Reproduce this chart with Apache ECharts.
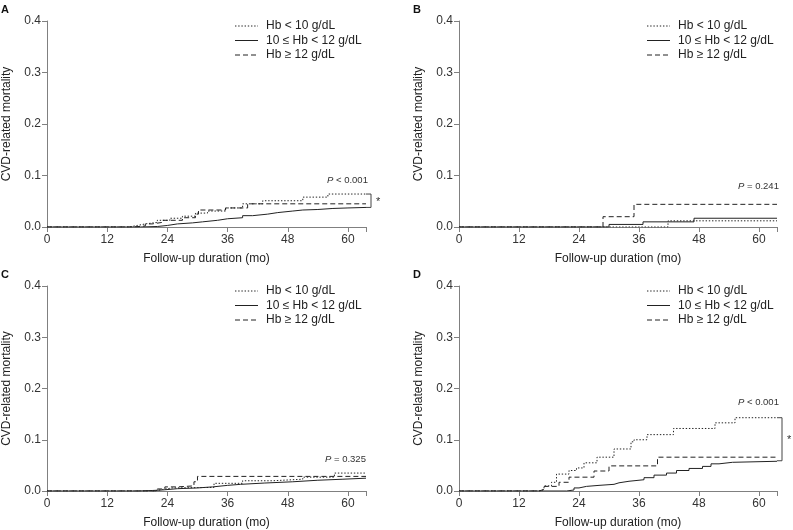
<!DOCTYPE html>
<html>
<head>
<meta charset="utf-8">
<script src="https://cdn.jsdelivr.net/npm/echarts@6/dist/echarts.min.js"></script>
<style>html,body{margin:0;padding:0;background:#fff}#c{width:793px;height:530px}</style>
</head>
<body>
<div id="c"></div>
<script>
// ---- data (month, cumulative CVD-related mortality) ----
var groupNames = ['Hb < 10 g/dL', '10 \u2264 Hb < 12 g/dL', 'Hb \u2265 12 g/dL'];
var xTicks = [0, 12, 24, 36, 48, 60];
var yTicks = [0, 0.1, 0.2, 0.3, 0.4];
var panelLetters = ['A', 'B', 'C', 'D'];
var pValues = ['< 0.001', '= 0.241', '= 0.325', '< 0.001'];
var significant = [true, false, false, true];

var aLow  = [[0,0],[16.3,0.003],[18,0.006],[19.6,0.009],[22,0.013],[24.5,0.017],[27,0.021],[29.6,0.027],[32,0.031],[35.6,0.037],[39,0.045],[43,0.051],[51,0.058],[56,0.064],[63.6,0.064]];
var aMid  = [[0,0],[18.6,0.001],[22,0.003],[24,0.006],[26,0.008],[29,0.010],[31,0.013],[34,0.016],[36,0.018],[39,0.022],[41,0.025],[44,0.028],[46,0.031],[49,0.033],[51,0.034],[54,0.036],[57,0.037],[60,0.038],[63.6,0.038]];
var aHigh = [[0,0],[17,0.002],[19.6,0.006],[21,0.009],[23,0.013],[27,0.018],[29.6,0.025],[30.2,0.033],[35.6,0.037],[40,0.045],[63.6,0.045]];

var bLow  = [[0,0],[41.8,0.012],[63.6,0.012]];
var bMid  = [[0,0],[30,0.005],[36.8,0.010],[47,0.017],[63.6,0.017]];
var bHigh = [[0,0],[28.8,0.020],[35,0.044],[63.6,0.044]];

var cLow  = [[0,0],[21.5,0.003],[23,0.006],[25,0.007],[33.3,0.015],[39,0.020],[45,0.023],[51,0.027],[57.3,0.035],[63.6,0.035]];
var cMid  = [[0,0],[18,0.001],[21,0.002],[23,0.0045],[26,0.006],[30,0.008],[33,0.011],[36,0.013],[38.6,0.0155],[43.3,0.018],[49,0.021],[54,0.023],[59,0.025],[63.6,0.026]];
var cHigh = [[0,0],[22,0.004],[23.5,0.008],[26,0.010],[29.3,0.018],[30,0.0285],[63.6,0.0285]];

var dLow  = [[0,0],[16.2,0.003],[17,0.010],[18.5,0.017],[19.5,0.033],[22,0.040],[23.5,0.045],[25,0.055],[27.6,0.066],[31,0.082],[34.4,0.096],[35,0.100],[37.6,0.110],[42.9,0.122],[51.2,0.133],[55.2,0.143],[63.6,0.143]];
var dMid  = [[0,0],[21.5,0.002],[23,0.006],[24,0.009],[25.5,0.011],[28,0.013],[31,0.016],[32,0.019],[34,0.022],[37,0.026],[39,0.031],[41.5,0.035],[43.5,0.040],[46,0.044],[48.7,0.048],[50.4,0.053],[52,0.056],[54.7,0.058],[63.6,0.059]];
var dHigh = [[0,0],[16,0.003],[17,0.009],[20,0.017],[22,0.027],[27,0.039],[30,0.049],[39.7,0.066],[63.6,0.066]];

var panels = [[aLow, aMid, aHigh], [bLow, bMid, bHigh], [cLow, cMid, cHigh], [dLow, dMid, dHigh]];
var xMax = 63.6;

// ---- layout ----
var FONT = '"Liberation Sans", Arial, sans-serif';
var gridPos = [
  {left: 47, top: 21, width: 319, height: 206},
  {left: 459, top: 21, width: 318, height: 206},
  {left: 47, top: 286, width: 319, height: 206},
  {left: 459, top: 286, width: 318, height: 206}
];
var legendPos = [{x: 235, y: 26}, {x: 647, y: 26}, {x: 235, y: 291}, {x: 647, y: 291}];
var pPos = [{left: 327, top: 175}, {left: 738, top: 181}, {left: 325, top: 454}, {left: 738, top: 397}];
var letterPos = [{left: 1, top: 4}, {left: 413, top: 4}, {left: 1, top: 269}, {left: 413, top: 269}];
var lineDash = [[1.4, 1.8], null, [5, 3]];
var lineTypes = [[1.4, 1.8], 'solid', [5, 3]];
var axisColor = '#808080';
var lineColor = '#222';

var grids = [], xAxes = [], yAxes = [], series = [], graphics = [];
panels.forEach(function (p, i) {
  grids.push(gridPos[i]);
  xAxes.push({
    type: 'value', gridIndex: i, min: 0, max: xMax, interval: 12,
    name: 'Follow-up duration (mo)', nameLocation: 'middle', nameGap: 26,
    nameTextStyle: {fontFamily: FONT, fontSize: 12, color: '#222'},
    axisLine: {lineStyle: {color: axisColor, width: 1}},
    axisTick: {length: 5, lineStyle: {color: axisColor}},
    axisLabel: {fontFamily: FONT, fontSize: 12, color: '#333', margin: 7,
      formatter: function (v) { return xTicks.indexOf(v) >= 0 ? String(v) : ''; }},
    splitLine: {show: false}
  });
  yAxes.push({
    type: 'value', gridIndex: i, min: 0, max: 0.4, interval: 0.1,
    name: 'CVD-related mortality', nameLocation: 'middle', nameGap: 34,
    nameTextStyle: {fontFamily: FONT, fontSize: 12, color: '#222'},
    axisLine: {show: true, lineStyle: {color: axisColor, width: 1}},
    axisTick: {show: true, length: 5, lineStyle: {color: axisColor}},
    axisLabel: {fontFamily: FONT, fontSize: 12, color: '#333', margin: 6,
      formatter: function (v) { return v.toFixed(1); }},
    splitLine: {show: false}
  });
  p.forEach(function (data, g) {
    series.push({
      type: 'line', name: groupNames[g], xAxisIndex: i, yAxisIndex: i,
      data: data, step: 'end', symbol: 'none', showSymbol: false, silent: true,
      lineStyle: {color: lineColor, width: 1, type: lineTypes[g]},
      z: 3 + g
    });
  });
  // legend drawn as graphics
  groupNames.forEach(function (nm, g) {
    var y = legendPos[i].y + g * 14.5;
    graphics.push({
      type: 'line', silent: true,
      shape: {x1: legendPos[i].x, y1: y, x2: legendPos[i].x + 23, y2: y},
      style: {stroke: lineColor, lineWidth: 1, lineDash: lineDash[g]}
    });
    graphics.push({
      type: 'text', silent: true, x: legendPos[i].x + 31, y: y,
      style: {text: nm, fontFamily: FONT, fontSize: 12, fill: '#222', verticalAlign: 'middle'}
    });
  });
  graphics.push({
    type: 'text', left: pPos[i].left, top: pPos[i].top,
    style: {text: '{i|P} ' + pValues[i], fontFamily: FONT, fontSize: 9.5, fill: '#333',
      rich: {i: {fontStyle: 'italic', fontFamily: FONT, fontSize: 9.5, fill: '#333'}}}
  });
  graphics.push({
    type: 'text', left: letterPos[i].left, top: letterPos[i].top,
    style: {text: panelLetters[i], fontFamily: FONT, fontSize: 11, fontWeight: 'bold', fill: '#111'}
  });
});

var chart = echarts.init(document.getElementById('c'), null, {renderer: 'canvas'});
chart.setOption({
  animation: false,
  backgroundColor: '#fff',
  grid: grids, xAxis: xAxes, yAxis: yAxes, series: series, graphic: graphics
});

// significance brackets, positioned from the series end values via the axes
var extra = [];
panels.forEach(function (p, i) {
  if (!significant[i]) return;
  var ends = p.map(function (d) { return d[d.length - 1][1]; });
  var top = Math.max.apply(null, ends), bot = Math.min.apply(null, ends);
  var pt = chart.convertToPixel({gridIndex: i}, [xMax, top]);
  var pb = chart.convertToPixel({gridIndex: i}, [xMax, bot]);
  var bx = pt[0] + 5;
  extra.push({
    type: 'polyline', silent: true,
    shape: {points: [[pt[0], pt[1]], [bx, pt[1]], [bx, pb[1]], [pb[0], pb[1]]]},
    style: {stroke: '#444', lineWidth: 1, fill: null}
  });
  extra.push({
    type: 'text', silent: true, x: bx + 5, y: (pt[1] + pb[1]) / 2 + 1,
    style: {text: '*', fontFamily: FONT, fontSize: 11, fill: '#333', verticalAlign: 'middle'}
  });
});
chart.setOption({graphic: graphics.concat(extra)});
</script>
</body>
</html>
